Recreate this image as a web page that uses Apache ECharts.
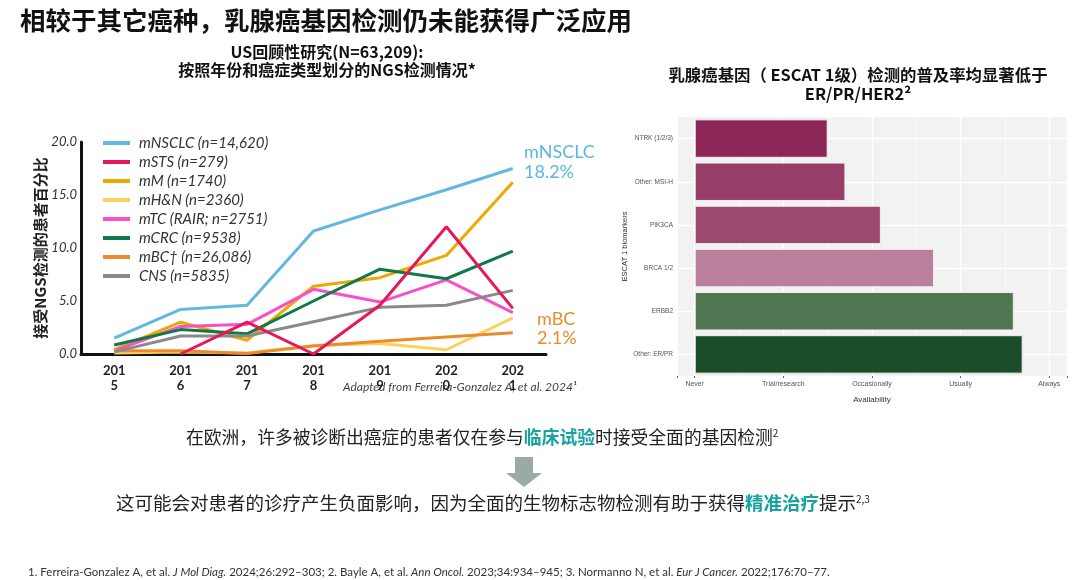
<!DOCTYPE html>
<html><head><meta charset="utf-8">
<script src="https://cdn.jsdelivr.net/npm/echarts@6/dist/echarts.min.js"></script>
<style>html,body{margin:0;padding:0;background:#fff;}#c{width:1080px;height:580px;}</style>
</head><body><div id="c"></div>
<script>
const years = ['2015','2016','2017','2018','2019','2020','2021'];
const mNSCLC = [1.5, 4.2, 4.6, 11.6, 13.6, 15.5, 17.5];
const mSTS = [null, 0, 3.0, 0, 4.6, 12.0, 4.3];
const mM = [0.4, 3.0, 1.3, 6.4, 7.2, 9.3, 16.2];
const mHN = [0.1, 0.2, 0.1, 0.8, 1.0, 0.4, 3.4];
const mTC = [0.3, 2.6, 2.8, 6.1, 4.9, 7.0, 3.9];
const mCRC = [0.85, 2.3, 1.9, 5.0, 8.0, 7.1, 9.7];
const mBC = [0.3, 0.3, 0.05, 0.75, 1.2, 1.6, 2.0];
const CNS = [0.2, 1.7, 1.7, 3.05, 4.4, 4.6, 6.0];
const lineNames = ['mNSCLC (n=14,620)','mSTS (n=279)','mM (n=1740)','mH&N (n=2360)','mTC (RAIR; n=2751)','mCRC (n=9538)','mBC\u2020 (n=26,086)','CNS (n=5835)'];
const lineColors = ['#62B8DE','#E5185A','#EFA800','#FAD25A','#F94FC9','#10784A','#EC8A2E','#8A8A8A'];
const lineData = [mNSCLC, mSTS, mM, mHN, mTC, mCRC, mBC, CNS];

const biomarkers = ['NTRK (1/2/3)','Other: MSI-H','PIK3CA','BRCA 1/2','ERBB2','Other: ER/PR'];
const availability = [1.5, 1.7, 2.1, 2.7, 3.6, 3.7];
const barColors = ['#8B2657','#963D68','#9B4A6E','#BA809C','#4F7650','#1A4D28'];
const availLevels = ['Never','Trial/research','Occasionally','Usually','Always'];

const hand = 'Lato, "Noto Sans", sans-serif';
const cjk = '"Noto Sans CJK SC", "Noto Sans", sans-serif';
const chart = echarts.init(document.getElementById('c'));

const lineSeries = lineNames.map((n, i) => ({
  name: n, type: 'line', xAxisIndex: 0, yAxisIndex: 0,
  data: lineData[i], showSymbol: false, symbol: 'none',
  lineStyle: { width: 3, color: lineColors[i] }, itemStyle: { color: lineColors[i] },
  connectNulls: false, z: (i === 1 ? 4 : 3)
}));

chart.setOption({
  backgroundColor: '#fff',
  animation: false,
  legend: {
    orient: 'vertical', left: 98, top: 130, itemWidth: 27, itemHeight: 4, itemGap: 3,
    icon: 'rect', data: lineNames,
    textStyle: { fontFamily: hand, fontStyle: 'italic', fontSize: 15, color: '#333', lineHeight: 16, padding: [0,0,0,4] }
  },
  grid: [
    { left: 81, width: 465, top: 142, height: 212 },
    { left: 677, width: 390, top: 117, height: 259, show: true, backgroundColor: '#F2F2F2', borderWidth: 0 }
  ],
  xAxis: [
    { type: 'category', gridIndex: 0, data: years, boundaryGap: true,
      axisLine: { lineStyle: { color: '#111', width: 3 } }, axisTick: { show: false },
      axisLabel: { formatter: v => v.slice(0,3) + '\n' + v.slice(3), fontFamily: hand, fontWeight: 'bold', fontSize: 13, color: '#222', lineHeight: 15, margin: 9 } },
    { type: 'value', gridIndex: 1, min: -0.2, max: 4.2,
      axisLine: { show: false },
      axisTick: { show: true, length: 2, lineStyle: { color: '#666' } },
      axisLabel: { fontSize: 7, color: '#555', margin: 5, fontFamily: 'Liberation Sans, Arial, sans-serif',
        formatter: v => (Math.abs(v - Math.round(v)) < 1e-6 && availLevels[Math.round(v)] !== undefined) ? availLevels[Math.round(v)] : '' },
      splitLine: { show: true, lineStyle: { color: '#FFFFFF', width: 1.3 } },
      name: 'Availability', nameLocation: 'middle', nameGap: 20,
      nameTextStyle: { fontSize: 8, color: '#333', fontFamily: 'Liberation Sans, Arial, sans-serif' } }
  ],
  yAxis: [
    { type: 'value', gridIndex: 0, min: 0, max: 20, interval: 5,
      axisLine: { show: true, lineStyle: { color: '#111', width: 3 } }, axisTick: { show: false },
      splitLine: { show: false },
      axisLabel: { formatter: v => v.toFixed(1), fontFamily: hand, fontStyle: 'italic', fontSize: 13, color: '#333', margin: 4 },
      name: '接受NGS检测的患者百分比', nameLocation: 'middle', nameRotate: 90, nameGap: 33,
      nameTextStyle: { fontFamily: cjk, fontWeight: 'bold', fontSize: 15, color: '#222' } },
    { type: 'category', gridIndex: 1, data: biomarkers, inverse: true,
      axisLine: { show: false },
      axisTick: { show: true, length: 2, alignWithLabel: true, lineStyle: { color: '#666' } },
      axisLabel: { fontSize: 6.5, color: '#555', margin: 4, fontFamily: 'Liberation Sans, Arial, sans-serif' },
      splitLine: { show: false },
      name: 'ESCAT 1 biomarkers', nameLocation: 'middle', nameRotate: 90, nameGap: 40,
      nameTextStyle: { fontSize: 7.5, color: '#333', fontFamily: 'Liberation Sans, Arial, sans-serif' } }
  ],
  series: lineSeries.concat([
    { type: 'bar', xAxisIndex: 1, yAxisIndex: 1, barCategoryGap: '11%', z: 3,
      data: availability.map((v, i) => ({ value: v, itemStyle: { color: barColors[i] } })),
      itemStyle: { borderColor: '#F4EEF1', borderWidth: 1 },
      markLine: { silent: true, symbol: 'none', z: 1, label: { show: false },
        data: biomarkers.map(b => ({ yAxis: b, lineStyle: { color: '#fff', width: 1.3, type: 'solid' } }))
          .concat([0.5, 1.5, 2.5, 3.5].map(x => ({ xAxis: x, lineStyle: { color: '#fff', width: 0.6, type: 'solid' } }))) } }
  ]),
  graphic: [
    { type: 'text', left: 20, top: 8, style: { text: '相较于其它癌种，乳腺癌基因检测仍未能获得广泛应用', font: 'bold 25.5px ' + cjk, fill: '#111' } },
    { type: 'text', x: 327, y: 52, style: { text: 'US回顾性研究(N=63,209):', font: 'bold 16px ' + cjk, fill: '#111', textAlign: 'center', textVerticalAlign: 'middle' } },
    { type: 'text', x: 327, y: 70, style: { text: '按照年份和癌症类型划分的NGS检测情况*', font: 'bold 16px ' + cjk, fill: '#111', textAlign: 'center', textVerticalAlign: 'middle' } },
    { type: 'text', x: 858, y: 75, style: { text: '乳腺癌基因（ ESCAT 1级）检测的普及率均显著低于', font: 'bold 16.4px ' + cjk, fill: '#111', textAlign: 'center', textVerticalAlign: 'middle' } },
    { type: 'text', x: 858, y: 94, style: { text: 'ER/PR/HER2²', font: 'bold 16.4px ' + cjk, fill: '#111', textAlign: 'center', textVerticalAlign: 'middle' } },
    { type: 'text', x: 524, y: 152, style: { text: 'mNSCLC', font: '18px ' + hand, fill: '#5CB8DE', textVerticalAlign: 'middle' } },
    { type: 'text', x: 524, y: 172, style: { text: '18.2%', font: '18px ' + hand, fill: '#5CB8DE', textVerticalAlign: 'middle' } },
    { type: 'text', x: 537, y: 319, style: { text: 'mBC', font: '18px ' + hand, fill: '#EC8A2E', textVerticalAlign: 'middle' } },
    { type: 'text', x: 537, y: 338, style: { text: '2.1%', font: '18px ' + hand, fill: '#EC8A2E', textVerticalAlign: 'middle' } },
    { type: 'text', x: 343, y: 387, style: { text: 'Adapted from Ferreira-Gonzalez A, et al. 2024¹', font: 'italic 12px ' + hand, fill: '#444', textVerticalAlign: 'middle' } },
    { type: 'text', x: 186, y: 437, style: {
        text: '{n|在欧洲，许多被诊断出癌症的患者仅在参与}{b|临床试验}{n|时接受全面的基因检测}{s|2}',
        textVerticalAlign: 'middle',
        rich: { n: { font: '17.8px ' + cjk, fill: '#222' }, b: { font: 'bold 17.8px ' + cjk, fill: '#17A2A0' }, s: { font: '10px ' + cjk, fill: '#222', padding: [0,0,8,0] } } } },
    { type: 'polygon', shape: { points: [[515,457],[533,457],[533,473],[542,473],[524,487],[506,473],[515,473]] }, style: { fill: '#9AABA6' } },
    { type: 'text', x: 116, y: 503, style: {
        text: '{n|这可能会对患者的诊疗产生负面影响，因为全面的生物标志物检测有助于获得}{b|精准治疗}{n|提示}{s|2,3}',
        textVerticalAlign: 'middle',
        rich: { n: { font: '18.5px ' + cjk, fill: '#222' }, b: { font: 'bold 18.5px ' + cjk, fill: '#17A2A0' }, s: { font: '10px ' + cjk, fill: '#222', padding: [0,0,8,0] } } } },
    { type: 'text', x: 28, y: 572, style: {
        text: '{n|1. Ferreira-Gonzalez A, et al. }{i|J Mol Diag.}{n| 2024;26:292–303; 2. Bayle A, et al. }{i|Ann Oncol.}{n| 2023;34:934–945; 3. Normanno N, et al. }{i|Eur J Cancer.}{n| 2022;176:70–77.}',
        textVerticalAlign: 'middle',
        rich: { n: { font: '11.5px ' + hand, fill: '#333' }, i: { font: 'italic 11.5px ' + hand, fill: '#333' } } } }
  ]
});
</script></body></html>
